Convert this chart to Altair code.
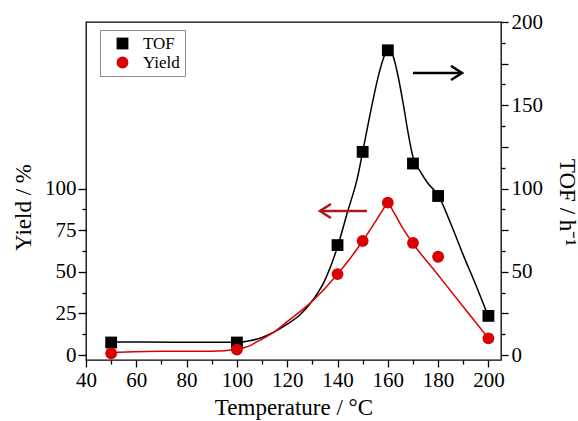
import altair as alt
import pandas as pd

# ---- data ----
temp_pts = [50, 100, 140, 150, 160, 170, 180, 200]
tof_pts = [7.5, 7.5, 66, 122, 183, 115, 95.5, 23.5]
yield_pts = [1.0, 3.2, 48.6, 68.5, 91.5, 67.3, 59, 10]

tof_curve_t = [50, 75, 100, 105, 110, 115, 120, 125, 129, 135, 140, 144, 148, 150,
               153, 156, 158, 160, 162, 164, 166, 168, 170, 173, 176, 180, 185, 190, 195, 200]
tof_curve_v = [7.8, 7.7, 7.6, 8.5, 10.5, 14, 18.5, 24, 30.6, 45, 65, 86, 107, 122,
               145, 166, 177, 184, 180, 168, 152, 134, 119, 110, 103, 96, 79, 60, 42, 23]

yield_rise_t = [50, 70, 90, 100, 105, 108, 115, 120, 129, 135, 140, 145, 150, 155, 160]
yield_rise_v = [1.5, 2.2, 2.3, 3.5, 5.5, 8, 14, 20, 31, 40, 48.6, 58, 68.5, 80, 92]
yield_fall_t = [160, 163, 166, 170, 180, 190, 200]
yield_fall_v = [92, 84, 76, 67, 48, 29, 10]

arrow_x_start = [170.0, 151.7]
arrow_x_end = [189.5, 133.0]
arrow_y = [169.4, 86.5]
arrow_color = ["#000000", "#b0161e"]
arrow_angle = [0, 180]

series_names = ["TOF", "Yield"]
series_colors = ["#000000", "#d80000"]
series_shapes = ["square", "circle"]

FONT = "Liberation Serif"
RED = "#d80000"

# ---- tables ----
pts = pd.DataFrame({
    "T": temp_pts * 2,
    "v": tof_pts + yield_pts,
    "series": ["TOF"] * len(temp_pts) + ["Yield"] * len(temp_pts),
})
tof_curve = pd.DataFrame({"T": tof_curve_t, "v": tof_curve_v})
yield_curve = pd.DataFrame({
    "T": yield_rise_t + yield_fall_t,
    "v": yield_rise_v + yield_fall_v,
    "seg": ["rise"] * len(yield_rise_t) + ["fall"] * len(yield_fall_t),
})
arrows = pd.DataFrame({"x0": arrow_x_start, "x1": arrow_x_end, "y": arrow_y,
                       "col": arrow_color, "ang": arrow_angle})

x_scale = alt.Scale(domain=[40, 205], nice=False, zero=False)
y_scale = alt.Scale(domain=[-3, 200], nice=False, zero=False)

# axes
x_major = alt.Axis(orient="bottom", values=list(range(40, 201, 20)), tickSize=7,
                   labelFontSize=21, labelPadding=2, labelFlush=False,
                   title="Temperature / °C", titleFontSize=23, titlePadding=6)
x_minor = alt.Axis(orient="bottom", values=list(range(50, 200, 20)), tickSize=4,
                   labels=False, title=None)
y_left_major = alt.Axis(orient="left", values=[0, 25, 50, 75, 100], tickSize=8,
                        labelFontSize=21, labelPadding=2, labelFlush=False,
                        title="Yield / %", titleFontSize=23, titleBaseline="middle",
                        titleX=-63, titleY=185)
y_left_minor = alt.Axis(orient="left", values=[12.5, 37.5, 62.5, 87.5], tickSize=4,
                        labels=False, title=None)
y_right_major = alt.Axis(orient="right", values=[0, 25, 50, 75, 100, 125, 150, 175, 200],
                         tickSize=7, labelFontSize=21, labelPadding=3, labelFlush=False,
                         labelExpr="datum.value % 50 === 0 ? datum.label : ''",
                         title="TOF / h⁻¹", titleFontSize=23, titleBaseline="middle",
                         titleX=65, titleY=180)
y_right_minor = alt.Axis(orient="right",
                         values=[12.5, 37.5, 62.5, 87.5, 112.5, 137.5, 162.5, 187.5],
                         tickSize=4, labels=False, title=None)

tof_line = alt.Chart(tof_curve).mark_line(interpolate="monotone", strokeWidth=1.5,
                                          color="#000000").encode(
    x=alt.X("T:Q", scale=x_scale, axis=x_major),
    y=alt.Y("v:Q", scale=y_scale, axis=y_right_major),
)

yield_line = alt.Chart(yield_curve).mark_line(interpolate="monotone", strokeWidth=1.5,
                                              color=RED).encode(
    x=alt.X("T:Q", scale=x_scale, axis=x_minor),
    y=alt.Y("v:Q", scale=y_scale, axis=y_left_major),
    detail="seg:N",
)

leg = alt.Legend(orient="none", legendX=14, legendY=8, title=None, labelFont=FONT,
                 labelFontSize=17, labelColor="#000000", symbolSize=140,
                 symbolStrokeWidth=0, strokeColor="#8a8a8a", fillColor="#ffffff",
                 padding=5, symbolOffset=9, labelOffset=12, rowPadding=1)

points = alt.Chart(pts).mark_point(filled=True, size=140, opacity=1).encode(
    x=alt.X("T:Q", scale=x_scale, axis=None),
    y=alt.Y("v:Q", scale=y_scale, axis=y_left_minor),
    color=alt.Color("series:N", scale=alt.Scale(domain=series_names, range=series_colors),
                    legend=leg),
    shape=alt.Shape("series:N", scale=alt.Scale(domain=series_names, range=series_shapes),
                    legend=leg),
)

shafts = alt.Chart(arrows).mark_rule(strokeWidth=2.5).encode(
    x=alt.X("x0:Q", scale=x_scale, axis=None),
    x2="x1:Q",
    y=alt.Y("y:Q", scale=y_scale, axis=y_right_minor),
    stroke=alt.Stroke("col:N", scale=None),
)

heads = alt.Chart(arrows).mark_point(shape="M-1,-0.64L0,0L-1,0.64", size=484,
                                     filled=False, strokeWidth=2.5, opacity=1).encode(
    x=alt.X("x1:Q", scale=x_scale, axis=None),
    y=alt.Y("y:Q", scale=y_scale, axis=None),
    stroke=alt.Stroke("col:N", scale=None),
    angle=alt.Angle("ang:Q", scale=None),
)

chart = alt.layer(tof_line, yield_line, points, shafts, heads).resolve_axis(
    x="independent", y="independent"
).properties(
    width=415, height=338,
    autosize=alt.AutoSizeParams(type="none"),
    padding={"left": 86, "top": 22, "right": 77, "bottom": 61},
    background="#ffffff",
).configure_view(
    stroke="#000000", strokeWidth=1.3,
).configure_axis(
    grid=False, domain=False, tickColor="#000000", tickWidth=1.3,
    labelFont=FONT, titleFont=FONT, labelColor="#000000", titleColor="#000000",
    titleFontWeight="normal",
)

chart.save("out.html", embed_options={"renderer": "svg", "actions": False})
